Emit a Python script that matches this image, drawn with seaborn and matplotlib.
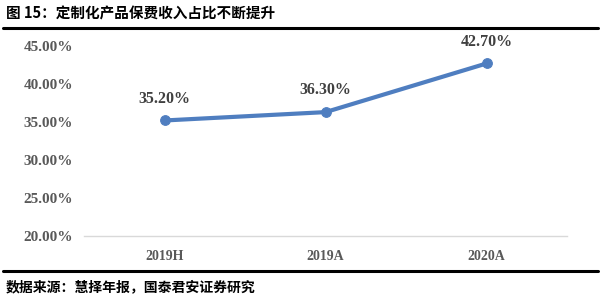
import matplotlib
matplotlib.use("Agg")
import matplotlib.pyplot as plt
import seaborn as sns
import pandas as pd
from matplotlib.lines import Line2D

categories = ["2019H", "2019A", "2020A"]
values = [35.20, 36.30, 42.70]
labels = ["35.20%", "36.30%", "42.70%"]
yticks = [20, 25, 30, 35, 40, 45]
ytick_labels = ["20.00%", "25.00%", "30.00%", "35.00%", "40.00%", "45.00%"]

sns.set_theme(style="white")
plt.rcParams['font.family'] = ['Noto Sans CJK SC', 'DejaVu Sans']

df = pd.DataFrame({"cat": categories, "val": values})
fig = plt.figure(figsize=(6.01, 2.99), dpi=100)
ax = fig.add_axes([84/601, 1-236/299, 483/601, 190/299])

x = list(range(len(categories)))
df["x"] = x
sns.lineplot(data=df, x="x", y="val", ax=ax, color="#4F7EC0", linewidth=3,
             marker="o", markersize=7, markeredgecolor="#4F7EC0")

ax.set_xlim(-0.5, 2.5)
ax.set_ylim(20, 45)
ax.set_xticks(x)
ax.set_xticklabels(categories, family="Liberation Serif", fontweight="bold",
                   fontsize=10, color="#595959")
ax.set_yticks(yticks)
ax.set_yticklabels(ytick_labels, family="Liberation Serif", fontweight="bold",
                   fontsize=11, color="#595959")
ax.tick_params(axis="x", length=0, pad=10)
ax.tick_params(axis="y", length=0, pad=8)
ax.set_xlabel("")
ax.set_ylabel("")
for s in ["top", "right", "left"]:
    ax.spines[s].set_visible(False)
ax.spines["bottom"].set_color("#D9D9D9")
ax.spines["bottom"].set_linewidth(1)

for xi, v, lab in zip(x, values, labels):
    ax.annotate(lab, (xi, v), xytext=(0, 10), textcoords="offset points",
                ha="center", va="bottom", family="Liberation Serif",
                fontweight="bold", fontsize=11.5, color="#404040")

fig.text(6/601, 1-13/299, "图 15：定制化产品保费收入占比不断提升", fontsize=10.5,
         fontweight="bold", va="center", ha="left", color="black")
fig.text(6/601, 1-287/299, "数据来源：慧择年报，国泰君安证券研究", fontsize=10,
         fontweight="bold", va="center", ha="left", color="black")
fig.add_artist(Line2D([3/601, 598/601], [1-28/299, 1-28/299], color="black",
                      linewidth=2.2, transform=fig.transFigure))
fig.add_artist(Line2D([3/601, 598/601], [1-271/299, 1-271/299], color="black",
                      linewidth=2.2, transform=fig.transFigure))

fig.savefig("out.png", dpi=100)
